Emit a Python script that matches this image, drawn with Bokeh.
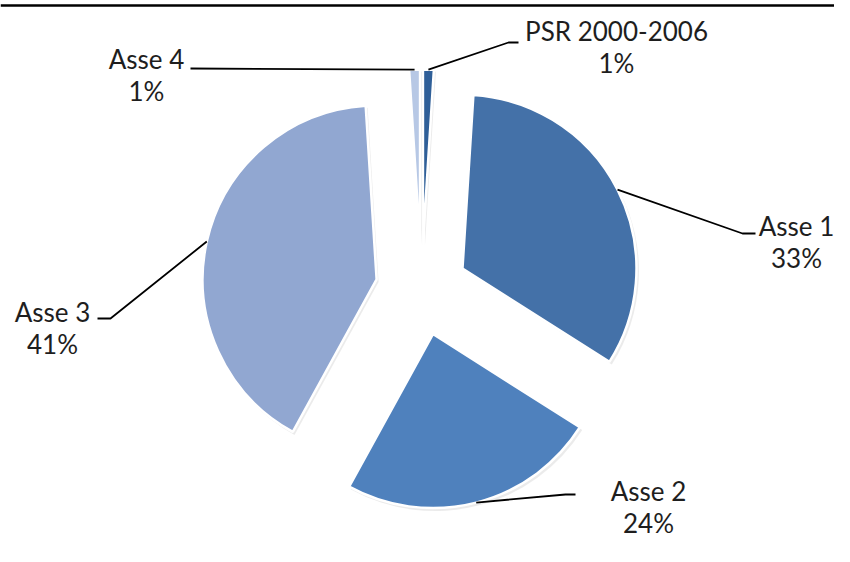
import math
from bokeh.plotting import figure
from bokeh.models import Range1d
from bokeh.core.properties import value
from bokeh.embed import file_html
from bokeh.resources import INLINE

# ---- data ----
categories = ["PSR 2000-2006", "Asse 1", "Asse 2", "Asse 3", "Asse 4"]
shares = [1, 33, 24, 41, 1]
pct_labels = ["1%", "33%", "24%", "41%", "1%"]
colors = ["#2f5f98", "#4471a8", "#4f81bd", "#91a7d1", "#b7c8e5"]

# ---- layout (reference pixel coordinates, y downwards) ----
W, H = 834, 546
CX, CY = 421, 289       # pie centre
R = 174                 # radius
EXPLODE = 46            # explosion distance
label_pos = {           # centre of the name line of each label
    "PSR 2000-2006": (616, 30),
    "Asse 1": (796, 225),
    "Asse 2": (648, 490),
    "Asse 3": (52, 311),
    "Asse 4": (146, 58),
}
elbows = {              # leader elbow points (kink, end near label)
    "PSR 2000-2006": [(508, 42), (518, 42)],
    "Asse 1": [(742, 233), (755, 233)],
    "Asse 2": [(565, 494), (575, 494)],
    "Asse 3": [(110, 318), (97, 318)],
    "Asse 4": [(190, 68)],
}
LINE2 = 32


def fy(y):
    # reference y (downwards) -> data y (upwards)
    return H - y


p = figure(width=W, height=H, output_backend="svg", toolbar_location=None,
           x_range=Range1d(0, W), y_range=Range1d(0, H),
           min_border=0, border_fill_color="white", background_fill_color="white")
p.axis.visible = False
p.grid.visible = False
p.outline_line_color = None

# top rule
p.line([0, W], [fy(5), fy(5)], line_color="black", line_width=2.5)

total = float(sum(shares))
acc = 0.0
for name, v, pct, col in zip(categories, shares, pct_labels, colors):
    a1 = acc / total * 360.0
    acc += v
    a2 = acc / total * 360.0
    mid = math.radians((a1 + a2) / 2)
    dx, dy = math.sin(mid), math.cos(mid)   # data coords, y up
    sx = CX + EXPLODE * dx
    sy = fy(CY) + EXPLODE * dy
    start = math.radians(90 - a2)
    end = math.radians(90 - a1)
    # soft shadow
    p.wedge(x=[sx + 2], y=[sy - 2.5], radius=R + 0.5, start_angle=[start], end_angle=[end],
            fill_color="#000000", fill_alpha=0.08, line_color=None)
    p.wedge(x=[sx], y=[sy], radius=R, start_angle=[start], end_angle=[end],
            fill_color=col, line_color="white", line_width=2.5)
    # leader line from slice edge
    ex = sx + R * dx
    ey = sy + R * dy
    xs = [ex] + [e[0] for e in elbows[name]]
    ys = [ey] + [fy(e[1]) for e in elbows[name]]
    p.line(xs, ys, line_color="black", line_width=1.8)
    lx, ly = label_pos[name]
    p.text(x=[lx, lx], y=[fy(ly), fy(ly + LINE2)], text=[name, pct],
           text_align="center", text_baseline="middle",
           text_font=value("Lato"), text_font_size="26px", text_color="#1e1e1e")

open("out.html", "w").write(file_html(p, INLINE))
